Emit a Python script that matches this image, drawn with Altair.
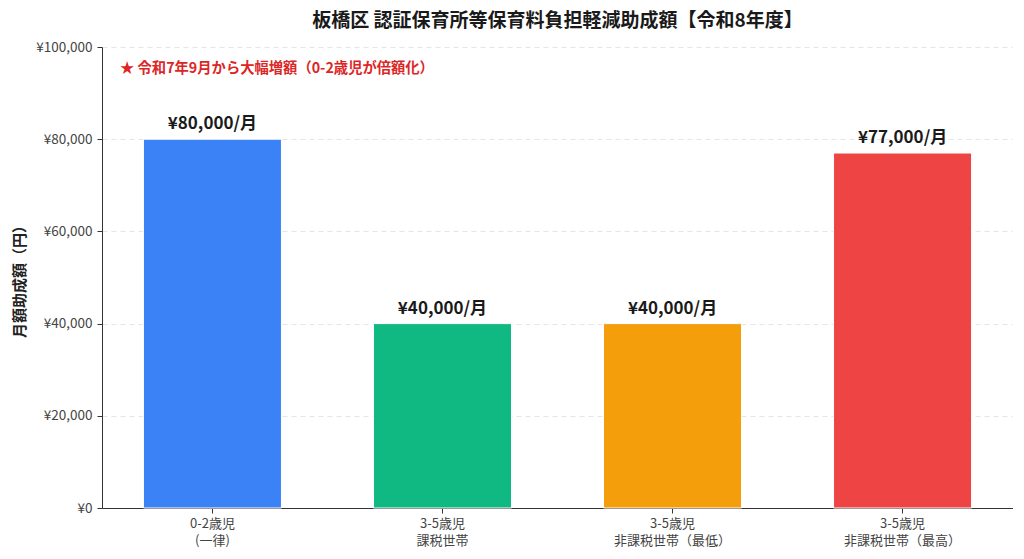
import altair as alt
import pandas as pd

# 区分と助成額
categories = ["0-2歳児\n(一律)", "3-5歳児\n課税世帯", "3-5歳児\n非課税世帯（最低）", "3-5歳児\n非課税世帯（最高）"]
amounts = [80000, 40000, 40000, 77000]
labels = ["¥80,000/月", "¥40,000/月", "¥40,000/月", "¥77,000/月"]
colors = ["#3b82f6", "#10b981", "#f59e0b", "#ef4444"]

df = pd.DataFrame({"区分": categories, "金額": amounts, "ラベル": labels, "色": colors})

FONT = "Noto Sans CJK JP"

x = alt.X(
    "区分:N",
    sort=categories,
    title=None,
    scale=alt.Scale(paddingInner=0.4, paddingOuter=0.18),
    axis=alt.Axis(
        labelAngle=0,
        labelExpr="split(datum.label, '\\n')",
        labelFontSize=13,
        labelColor="#444444",
        labelPadding=4,
        tickSize=5,
        tickColor="#333333",
        domainColor="#333333",
        labelLineHeight=17,
    ),
)

bars = alt.Chart(df).mark_bar(stroke="white", strokeWidth=1).encode(
    x=x,
    y=alt.Y(
        "金額:Q",
        title="月額助成額（円）",
        scale=alt.Scale(domain=[0, 100000]),
        axis=alt.Axis(
            values=[0, 20000, 40000, 60000, 80000, 100000],
            labelExpr="'¥' + format(datum.value, ',')",
            labelFontSize=13.5,
            labelColor="#444444",
            labelPadding=5,
            tickSize=5,
            tickColor="#333333",
            domainColor="#333333",
            grid=True,
            gridDash=[5, 4],
            gridColor="#e5e5e5",
            titleFontSize=15,
            titleFontWeight="bold",
            titleColor="#222222",
            titlePadding=8,
        ),
    ),
    color=alt.Color("色:N", scale=None),
)

text = alt.Chart(df).mark_text(
    fontSize=17, fontWeight="bold", baseline="bottom", dy=-6, color="#1a1a1a", font=FONT
).encode(
    x=alt.X("区分:N", sort=categories),
    y="金額:Q",
    text="ラベル:N",
)

note = alt.Chart(pd.DataFrame({"t": ["★ 令和7年9月から大幅増額（0-2歳児が倍額化）"]})).mark_text(
    fontSize=14.3, fontWeight="bold", color="#dc2626", align="left", font=FONT
).encode(
    x=alt.value(18),
    y=alt.datum(95300),
    text="t:N",
)

chart = alt.layer(bars, text, note).properties(
    width=911,
    height=461,
    title=alt.TitleParams(
        "板橋区 認証保育所等保育料負担軽減助成額【令和8年度】",
        fontSize=19,
        fontWeight="bold",
        color="#1a1a1a",
        offset=9,
        font=FONT,
    ),
    autosize=alt.AutoSizeParams(type="none"),
    padding={"left": 94, "top": 39, "right": 0, "bottom": 40},
).configure(
    font=FONT,
).configure_view(
    stroke=None,
)

chart.save("out.html", embed_options={"renderer": "svg", "actions": False})
